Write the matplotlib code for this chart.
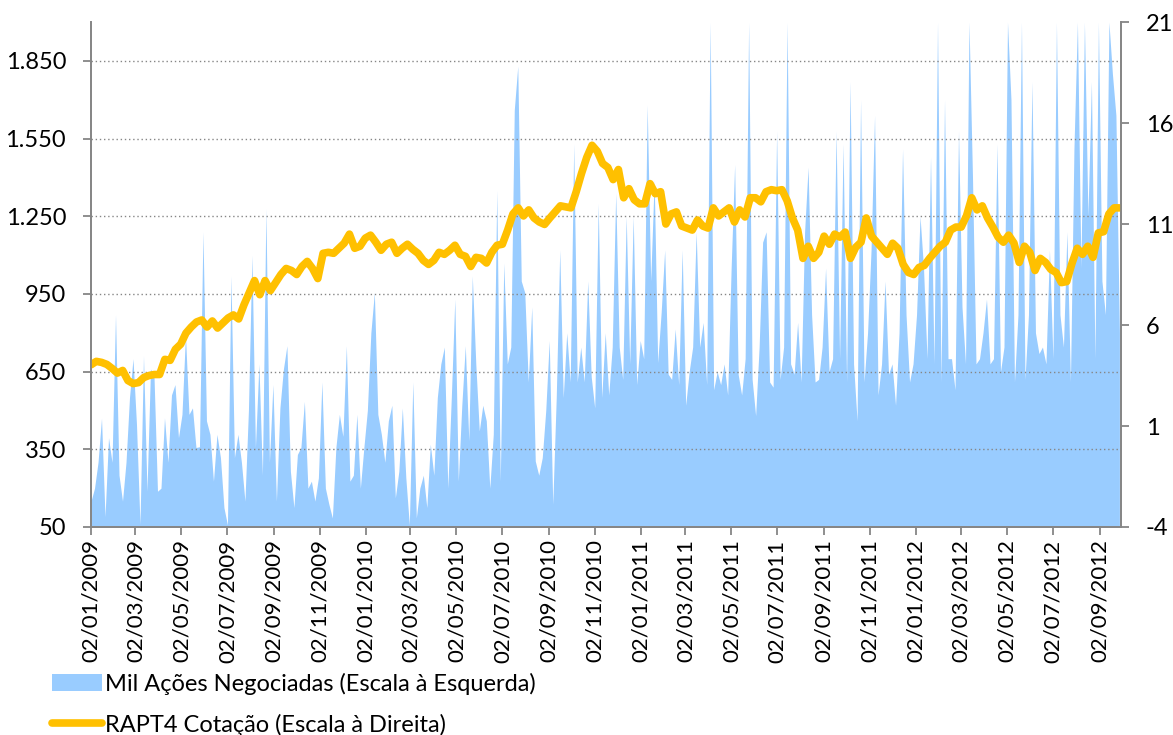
import matplotlib.pyplot as plt
import matplotlib.dates as mdates
from matplotlib.patches import Patch
from matplotlib.lines import Line2D
from matplotlib.ticker import FuncFormatter
import pandas as pd

plt.rcParams['font.family'] = ['Lato', 'DejaVu Sans']
plt.rcParams['axes.unicode_minus'] = False

# weekly closing price (right scale)
price = [4.03, 4.2, 4.15, 4.05, 3.85, 3.62, 3.75, 3.25, 3.1, 3.15,
         3.4, 3.5, 3.55, 3.55, 4.3, 4.25, 4.8, 5.05, 5.6, 5.9,
         6.15, 6.25, 5.9, 6.2, 5.85, 6.1, 6.35, 6.5, 6.3, 7.0,
         7.6, 8.2, 7.5, 8.2, 7.7, 8.1, 8.5, 8.8, 8.7, 8.5,
         8.9, 9.15, 8.8, 8.3, 9.55, 9.6, 9.55, 9.8, 10.05, 10.5,
         9.8, 9.9, 10.3, 10.45, 10.1, 9.7, 10.0, 10.1, 9.55, 9.8,
         10.0, 9.75, 9.55, 9.2, 9.0, 9.2, 9.6, 9.5, 9.7, 9.95,
         9.5, 9.4, 8.9, 9.35, 9.3, 9.07, 9.6, 9.95, 10.0, 10.7,
         11.5, 11.8, 11.4, 11.7, 11.3, 11.1, 10.98, 11.3, 11.6, 11.9,
         11.85, 11.8, 12.6, 13.5, 14.3, 14.9, 14.6, 14.0, 13.8, 13.2,
         13.7, 12.3, 12.75, 12.2, 12.0, 12.0, 13.0, 12.5, 12.6, 11.0,
         11.5, 11.6, 10.9, 10.8, 10.7, 11.2, 10.9, 10.8, 11.8, 11.4,
         11.6, 11.8, 11.1, 11.7, 11.35, 12.3, 12.3, 12.1, 12.6, 12.7,
         12.65, 12.7, 12.15, 11.3, 10.7, 9.3, 9.9, 9.3, 9.6, 10.4,
         10.0, 10.5, 10.35, 10.6, 9.3, 9.85, 10.1, 11.3, 10.4, 10.1,
         9.8, 9.5, 10.05, 9.8, 9.0, 8.6, 8.5, 8.85, 8.95, 9.3,
         9.6, 9.9, 10.1, 10.7, 10.85, 10.85, 11.4, 12.3, 11.7, 11.9,
         11.3, 10.85, 10.35, 10.1, 10.45, 10.06, 9.1, 9.9, 9.6, 8.7,
         9.3, 9.1, 8.75, 8.6, 8.1, 8.15, 9.05, 9.8, 9.5, 9.9,
         9.35, 10.56, 10.62, 11.5, 11.8, 11.8]
price_dates = pd.date_range('2009-01-02', periods=len(price), freq='7D')

# thousand shares traded (left scale), sampled about twice a week
volume = [150, 200, 300, 470, 90, 395, 300, 870, 250, 150,
          300, 550, 700, 446, 60, 712, 188, 660, 635, 188,
          200, 472, 300, 560, 600, 395, 485, 790, 485, 510,
          357, 360, 1190, 460, 408, 227, 408, 318, 125, 58,
          1020, 318, 408, 300, 150, 500, 1100, 357, 680, 250,
          1280, 300, 600, 150, 510, 660, 750, 265, 125, 330,
          357, 535, 200, 227, 150, 240, 610, 200, 138, 85,
          357, 485, 400, 750, 227, 250, 485, 200, 357, 500,
          800, 955, 485, 408, 300, 460, 520, 163, 265, 510,
          240, 58, 610, 85, 200, 250, 125, 370, 250, 550,
          680, 745, 200, 550, 930, 227, 520, 750, 383, 1020,
          680, 421, 520, 460, 200, 408, 1350, 227, 1070, 680,
          745, 1660, 1830, 1000, 955, 610, 900, 305, 250, 318,
          500, 770, 138, 550, 1120, 550, 800, 610, 1530, 610,
          745, 610, 1000, 630, 510, 1300, 550, 800, 560, 745,
          1340, 745, 620, 1250, 680, 1250, 600, 770, 700, 1680,
          1000, 1390, 685, 880, 1120, 640, 620, 815, 600, 1120,
          520, 650, 745, 1190, 745, 840, 600, 2000, 580, 650,
          600, 680, 560, 1050, 1450, 640, 560, 700, 2000, 620,
          480, 745, 1150, 1190, 610, 590, 1580, 620, 745, 2000,
          680, 640, 840, 610, 1190, 1440, 870, 610, 620, 745,
          1050, 650, 700, 1580, 700, 1530, 610, 1770, 680, 460,
          1700, 610, 800, 1120, 1640, 560, 680, 1000, 640, 680,
          520, 800, 1510, 870, 610, 680, 870, 1250, 1050, 700,
          1480, 680, 2000, 610, 1700, 700, 700, 580, 1580, 900,
          680, 2000, 1400, 680, 700, 800, 930, 680, 700, 1530,
          650, 745, 2000, 1700, 610, 870, 2000, 620, 870, 1770,
          800, 720, 745, 680, 1120, 700, 2000, 870, 745, 1190,
          610, 1510, 2000, 1050, 2000, 1250, 1770, 700, 2000, 1000,
          870, 2000, 1800, 1640, 800]
volume_dates = pd.date_range('2009-01-02', '2012-09-28', periods=len(volume))

tick_dates = [pd.Timestamp(y, m, 2) for y in range(2009, 2013) for m in range(1, 13, 2)
              if pd.Timestamp(y, m, 2) <= pd.Timestamp(2012, 9, 2)]
left_ticks = [50, 350, 650, 950, 1250, 1550, 1850]
right_ticks = [-4, 1, 6, 11, 16, 21]

blue = '#99CCFF'
gold = '#FFC000'
gray = '#868686'

fig = plt.figure(figsize=(11.73, 7.35), dpi=100)
ax = fig.add_axes([0.0776, 0.283, 0.878, 0.687])
ax2 = ax.twinx()

ax.fill_between(volume_dates, 50, volume, color=blue, linewidth=0)
ax2.plot(price_dates, price, color=gold, lw=5.5, solid_capstyle='round', solid_joinstyle='round')

ax.set_xlim(pd.Timestamp(2009, 1, 2), pd.Timestamp(2012, 9, 30))
ax.set_ylim(50, 2000)
ax2.set_ylim(-4, 21)

ax.set_yticks(left_ticks)
ax.yaxis.set_major_formatter(FuncFormatter(lambda v, p: f'{int(v):,}'.replace(',', '.')))
ax2.set_yticks(right_ticks)

ax.set_xticks(tick_dates)
ax.xaxis.set_major_formatter(mdates.DateFormatter('%d/%m/%Y'))
plt.setp(ax.get_xticklabels(), rotation=90)

for y in left_ticks[1:]:
    ax.axhline(y, color=gray, linestyle=(0, (1, 2)), linewidth=1, zorder=1.5)

for a in (ax, ax2):
    a.spines['top'].set_visible(False)
    for s in ('left', 'right', 'bottom'):
        a.spines[s].set_color(gray)
        a.spines[s].set_linewidth(1.3)
    a.tick_params(colors=gray, labelcolor='black', labelsize=17, length=6, width=1.3)
ax.tick_params(axis='y', pad=12)
ax2.tick_params(axis='y', pad=12)
ax.tick_params(axis='x', pad=3, labelsize=16)

handles = [Patch(facecolor=blue, edgecolor='none'),
           Line2D([0], [0], color=gold, lw=5.5, solid_capstyle='round')]
labels = ['Mil Ações Negociadas (Escala à Esquerda)', 'RAPT4 Cotação (Escala à Direita)']
fig.legend(handles, labels, loc='upper left', bbox_to_anchor=(0.0443, 0.085),
           frameon=False, fontsize=17, handlelength=2.1, handletextpad=0.15,
           labelspacing=0.8, borderpad=0, borderaxespad=0)

fig.savefig('out.png', dpi=100)
